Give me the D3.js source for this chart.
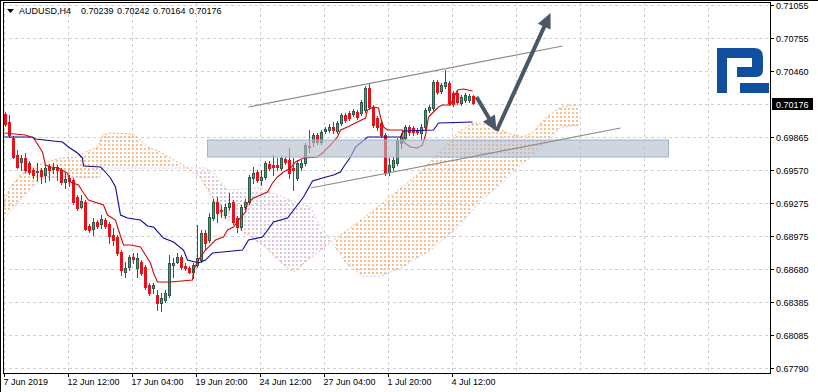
<!DOCTYPE html>
<html><head><meta charset="utf-8">
<script src="https://cdn.jsdelivr.net/npm/d3@7"></script>
<style>body{margin:0;background:#fff}svg{display:block}text{font-family:"Liberation Sans",Arial,sans-serif;font-size:9px;fill:#000}</style>
</head><body><svg id="c" width="818" height="392"></svg>
<script>
const symbol = "AUDUSD,H4";
const open = [0.70074,0.69998,0.69858,0.69705,0.69642,0.69678,0.69633,0.69570,0.69552,0.69570,
0.69525,0.69606,0.69579,0.69597,0.69570,0.69462,0.69498,0.69480,0.69327,0.69237,
0.69282,0.69066,0.69039,0.69102,0.69084,0.69120,0.69084,0.68985,0.68967,0.68832,
0.68652,0.68697,0.68787,0.68688,0.68742,0.68697,0.68535,0.68508,0.68445,0.68373,
0.68400,0.68445,0.68715,0.68742,0.68787,0.68706,0.68688,0.68652,0.68715,0.68760,
0.69003,0.68940,0.69138,0.69282,0.69210,0.69165,0.69237,0.69282,0.69138,0.69057,
0.69237,0.69282,0.69498,0.69552,0.69480,0.69507,0.69624,0.69615,0.69615,0.69588,
0.69669,0.69660,0.69588,0.69498,0.69597,0.69633,0.69786,0.69822,0.69885,0.69822,
0.69921,0.69930,0.69957,0.69921,0.69993,0.70065,0.70083,0.70074,0.70092,0.70083,
0.70110,0.70308,0.70137,0.70038,0.69993,0.69885,0.69552,0.69597,0.69633,0.69813,
0.69858,0.69957,0.69948,0.69930,0.69903,0.69957,0.70110,0.70128,0.70362,0.70281,
0.70326,0.70353,0.70263,0.70263,0.70173,0.70200,0.70200,0.70239];
const high = [0.70092,0.70065,0.69876,0.69750,0.69705,0.69723,0.69651,0.69588,0.69633,0.69588,
0.69606,0.69624,0.69633,0.69615,0.69588,0.69543,0.69525,0.69498,0.69345,0.69345,
0.69300,0.69084,0.69138,0.69120,0.69165,0.69138,0.69102,0.69048,0.68985,0.68850,
0.68742,0.68805,0.68823,0.68823,0.68760,0.68715,0.68553,0.68553,0.68490,0.68463,
0.68490,0.68805,0.68778,0.68823,0.68805,0.68733,0.68706,0.68733,0.69075,0.69030,
0.69030,0.69183,0.69309,0.69327,0.69255,0.69264,0.69363,0.69300,0.69156,0.69255,
0.69309,0.69525,0.69597,0.69570,0.69570,0.69651,0.69651,0.69705,0.69678,0.69696,
0.69687,0.69768,0.69678,0.69660,0.69660,0.69813,0.69930,0.69903,0.69903,0.69930,
0.69957,0.69984,0.69999,0.70011,0.70083,0.70083,0.70101,0.70119,0.70110,0.70200,
0.70326,0.70353,0.70155,0.70056,0.70020,0.69903,0.69678,0.69687,0.69858,0.69903,
0.69975,0.69975,0.69966,0.69948,0.69984,0.70128,0.70155,0.70380,0.70380,0.70353,
0.70470,0.70371,0.70281,0.70281,0.70245,0.70263,0.70254,0.70242];
const low = [0.69966,0.69867,0.69678,0.69588,0.69570,0.69552,0.69534,0.69498,0.69480,0.69453,
0.69462,0.69480,0.69543,0.69480,0.69444,0.69408,0.69426,0.69264,0.69210,0.69228,
0.69030,0.69012,0.68985,0.69048,0.69048,0.69048,0.68913,0.68895,0.68805,0.68625,
0.68607,0.68670,0.68733,0.68607,0.68625,0.68499,0.68445,0.68463,0.68310,0.68301,
0.68382,0.68427,0.68607,0.68733,0.68679,0.68670,0.68643,0.68598,0.68697,0.68742,
0.68850,0.68922,0.69120,0.69102,0.69147,0.69138,0.69210,0.69084,0.69012,0.69030,
0.69219,0.69264,0.69453,0.69462,0.69435,0.69489,0.69570,0.69525,0.69570,0.69570,
0.69624,0.69498,0.69390,0.69480,0.69570,0.69615,0.69732,0.69786,0.69804,0.69804,
0.69903,0.69912,0.69903,0.69903,0.69975,0.70002,0.70020,0.70056,0.70029,0.70065,
0.70092,0.70119,0.69957,0.69930,0.69867,0.69525,0.69525,0.69570,0.69615,0.69768,
0.69840,0.69885,0.69885,0.69894,0.69840,0.69939,0.70092,0.70110,0.70254,0.70263,
0.70308,0.70155,0.70146,0.70164,0.70155,0.70182,0.70182,0.70164];
const close = [0.69984,0.69885,0.69687,0.69597,0.69678,0.69570,0.69552,0.69525,0.69561,0.69516,
0.69588,0.69570,0.69588,0.69570,0.69462,0.69489,0.69471,0.69282,0.69228,0.69291,
0.69039,0.69030,0.69102,0.69066,0.69129,0.69066,0.68976,0.68940,0.68823,0.68670,
0.68688,0.68787,0.68769,0.68778,0.68643,0.68517,0.68463,0.68535,0.68373,0.68418,
0.68463,0.68733,0.68733,0.68787,0.68697,0.68688,0.68652,0.68715,0.68778,0.69003,
0.68913,0.69147,0.69282,0.69183,0.69201,0.69237,0.69273,0.69102,0.69057,0.69237,
0.69282,0.69507,0.69543,0.69480,0.69507,0.69633,0.69588,0.69597,0.69597,0.69678,
0.69642,0.69543,0.69570,0.69633,0.69633,0.69795,0.69777,0.69885,0.69822,0.69912,
0.69939,0.69957,0.69930,0.69993,0.70065,0.70020,0.70038,0.70101,0.70047,0.70182,
0.70308,0.70137,0.69975,0.69957,0.69885,0.69543,0.69615,0.69660,0.69840,0.69867,
0.69957,0.69912,0.69912,0.69912,0.69957,0.70110,0.70137,0.70362,0.70272,0.70335,
0.70362,0.70173,0.70164,0.70182,0.70227,0.70245,0.70236,0.70176];

const timeLabels = ["7 Jun 2019","12 Jun 12:00","17 Jun 04:00","19 Jun 20:00","24 Jun 12:00","27 Jun 04:00","1 Jul 20:00","4 Jul 12:00"];
const timeLabelBars = [0,16,32,48,64,80,96,112];
const gridBars = [0,16,32,48,64,80,96,112,128,144,160,176,192];
const priceTicks = [0.71055,0.70755,0.70460,0.70165,0.69865,0.69570,0.69275,0.68975,0.68680,0.68385,0.68085,0.67790];
const lastPrice = 0.70176;
const cloudBars = 144;

const tenkan = [[-0.25,0.69903],[5,0.69885],[7,0.69858],[9.25,0.69732],[10,0.69615],[11.25,0.69597],[13.25,0.69588],[15.5,0.69543],[16.25,0.69462],[18.25,0.69435],[19.5,0.69363],[20.75,0.69300],[24.5,0.69255],[25.5,0.69165],[27.5,0.69120],[28.25,0.69030],[29.5,0.68895],[31.25,0.68895],[33.75,0.68877],[35,0.68805],[36.25,0.68733],[37,0.68643],[38,0.68562],[41.25,0.68562],[46.75,0.68580],[47,0.68670],[48.25,0.68760],[50,0.68850],[51.25,0.68895],[52.5,0.68940],[54.5,0.68967],[55.5,0.69030],[57,0.69057],[58.25,0.69120],[60,0.69192],[60.5,0.69273],[62,0.69318],[63.75,0.69345],[65.5,0.69372],[66.75,0.69453],[68,0.69507],[69.5,0.69552],[71.25,0.69588],[72.5,0.69642],[74.5,0.69678],[78,0.69687],[79.5,0.69732],[81.25,0.69795],[83,0.69867],[83.75,0.69930],[85.5,0.69957],[87.5,0.69993],[90,0.70038],[90.5,0.70110],[92,0.70137],[93.25,0.70128],[93.75,0.70047],[94.5,0.69957],[95.5,0.69930],[99.25,0.69930],[99.5,0.69822],[101.25,0.69777],[103,0.69768],[104.25,0.69795],[105,0.69885],[105.75,0.70047],[107,0.70092],[108.25,0.70137],[109.25,0.70155],[111.25,0.70155],[112,0.70218],[113,0.70290],[114.5,0.70299],[116.75,0.70281]];
const kijun = [[-0.25,0.69867],[6.75,0.69867],[7.5,0.69849],[14.25,0.69822],[15.75,0.69777],[18,0.69723],[19.25,0.69678],[19.5,0.69606],[23.75,0.69597],[24.5,0.69570],[26.25,0.69498],[27.5,0.69417],[28.75,0.69165],[30.5,0.69138],[33.75,0.69120],[35.5,0.69066],[37,0.69057],[39.5,0.68958],[42,0.68922],[44.5,0.68850],[45.5,0.68760],[48.25,0.68733],[50,0.68760],[51.75,0.68823],[54.25,0.68832],[59.25,0.68850],[60.75,0.68940],[64.25,0.68967],[67,0.69102],[70.5,0.69138],[73,0.69255],[74.5,0.69327],[76.75,0.69471],[79.25,0.69498],[82,0.69525],[83.75,0.69552],[84.5,0.69597],[86.25,0.69687],[87.5,0.69777],[90.5,0.69867],[98.75,0.69867],[99.5,0.69921],[107,0.69930],[108.25,0.69993],[116.75,0.70002]];
const spanA = [[-0.25,0.69300],[1.25,0.69417],[3.75,0.69525],[7,0.69597],[10.5,0.69642],[13.75,0.69678],[18,0.69687],[19.5,0.69723],[23,0.69777],[24.5,0.69885],[26.25,0.69903],[32,0.69894],[33.75,0.69840],[35.5,0.69777],[38.75,0.69732],[42,0.69660],[45.5,0.69588],[48.75,0.69498],[51.75,0.69327],[53.75,0.69183],[60,0.69003],[63.75,0.68913],[68.75,0.68742],[72,0.68652],[75.5,0.68760],[78.75,0.68850],[82,0.68940],[86.25,0.69048],[93.75,0.69255],[103.75,0.69552],[113,0.69903],[117,0.69993],[120.5,0.69975],[123.75,0.69930],[127,0.69885],[129.5,0.69867],[132,0.69912],[134.5,0.70020],[137,0.70092],[139.5,0.70146],[143.25,0.70155]];
const spanB = [[-0.25,0.69138],[3.75,0.69300],[9.5,0.69507],[23.75,0.69507],[24,0.69588],[50,0.69588],[52,0.69543],[55.5,0.69390],[63.75,0.69408],[73,0.69273],[76.25,0.69237],[78.75,0.69057],[81.25,0.68940],[85,0.68742],[89.25,0.68616],[93.75,0.68616],[98.75,0.68688],[106.25,0.68850],[113.75,0.69075],[118.75,0.69300],[123.75,0.69435],[128.75,0.69615],[133.75,0.69750],[138.75,0.69957],[143.25,0.69975]];

const zoneBars = [50.5, 165.75];
const zonePrices = [0.69840, 0.69687];
const channelUpper = [[60.75,0.70137],[139.25,0.70686]];
const channelLower = [[76.25,0.69408],[153.75,0.69948]];
const arrowDown = [[117.75,0.70227],[122.75,0.69921]];
const arrowUp = [[122.75,0.69921],[136.25,0.70983]];

const svg = d3.select("#c");
const L = 3, T = 2, R = 770, B = 373;
const x = d3.scaleLinear().domain([0, 1]).range([5.5, 9.5]);
const y = d3.scaleLinear().domain([0.6779, 0.71055]).range([367.8, 5]);
const fmt = d3.format(".5f");
const ORANGE = "#F4A460", THISTLE = "#D8BFD8";
const ORANGE_DOT = "#F7BE8E", THISTLE_DOT = "#DCC8DC";

svg.append("rect").attr("width", 818).attr("height", 392).attr("fill", "#fff");
const defs = svg.append("defs");
defs.append("clipPath").attr("id", "plot").append("rect").attr("x", L + 1).attr("y", T + 1).attr("width", R - L - 1).attr("height", B - T - 1);
const plot = svg.append("g").attr("clip-path", "url(#plot)");

const grid = plot.append("g").attr("stroke", "#cfcfcf").attr("stroke-dasharray", "3,3").attr("shape-rendering", "crispEdges");
gridBars.forEach(b => grid.append("line").attr("x1", x(b) - 1).attr("x2", x(b) - 1).attr("y1", T).attr("y2", B));
priceTicks.forEach(p => grid.append("line").attr("x1", L).attr("x2", R).attr("y1", Math.round(y(p)) + 0.5).attr("y2", Math.round(y(p)) + 0.5));

// cloud: span A / span B as piecewise-linear scales, dotted histogram per bar between them
const sA = d3.scaleLinear().domain(spanA.map(d => d[0])).range(spanA.map(d => d[1])).clamp(true);
const sB = d3.scaleLinear().domain(spanB.map(d => d[0])).range(spanB.map(d => d[1])).clamp(true);
const kg = plot.append("g").attr("shape-rendering", "crispEdges");
d3.range(cloudBars).forEach(j => {
  const a = sA(j), b = sB(j);
  const y1 = y(Math.max(a, b)), y2 = y(Math.min(a, b));
  const col = a >= b ? ORANGE_DOT : THISTLE_DOT;
  const x0 = Math.floor(x(j) - 1.5);
  for (let yy = Math.ceil(y1 / 4) * 4; yy + 1 <= y2; yy += 4)
    kg.append("rect").attr("x", x0).attr("y", yy).attr("width", 2).attr("height", 2).attr("fill", col);
});
const line = d3.line().x(d => x(d[0])).y(d => y(d[1]));
plot.append("path").attr("d", line(spanA)).attr("fill", "none").attr("stroke", ORANGE).attr("stroke-dasharray", "2,2");
plot.append("path").attr("d", line(spanB)).attr("fill", "none").attr("stroke", THISTLE).attr("stroke-dasharray", "2,2");

const cg = plot.append("g").attr("shape-rendering", "crispEdges");
open.forEach((o, i) => {
  const c = close[i], up = c > o;
  const col = up ? "#2b5a47" : "#e8101a";
  const cx = x(i);
  cg.append("line").attr("x1", cx).attr("x2", cx)
    .attr("y1", Math.round(y(high[i]))).attr("y2", Math.round(y(low[i])) + 1).attr("stroke", col);
  const yt = Math.round(y(Math.max(o, c))), yb = Math.round(y(Math.min(o, c)));
  cg.append("rect").attr("x", cx - 1).attr("y", yt + 0.5).attr("width", 2).attr("height", Math.max(yb - yt, 0))
    .attr("fill", up ? "#4f9a7c" : "#e8101a").attr("stroke", col);
});

plot.append("path").attr("d", line(kijun)).attr("fill", "none").attr("stroke", "#0a0a9c").attr("stroke-width", 1.1);
plot.append("path").attr("d", line(tenkan)).attr("fill", "none").attr("stroke", "#cc0a0a").attr("stroke-width", 1.1);

plot.append("rect").attr("x", x(zoneBars[0])).attr("y", y(zonePrices[0]))
  .attr("width", x(zoneBars[1]) - x(zoneBars[0])).attr("height", y(zonePrices[1]) - y(zonePrices[0]))
  .attr("fill", "#b4bcc8").attr("fill-opacity", 0.62).attr("stroke", "#9db4d6").attr("stroke-width", 1);

[channelUpper, channelLower].forEach(ch => plot.append("path").attr("d", line(ch)).attr("fill", "none").attr("stroke", "#8c8c8c").attr("stroke-width", 1.2));

function arrow(pts) {
  const [x0, y0] = [x(pts[0][0]), y(pts[0][1])], [x1, y1] = [x(pts[1][0]), y(pts[1][1])];
  const a = Math.atan2(y1 - y0, x1 - x0), len = 15, hw = 7;
  const bx = x1 - len * Math.cos(a), by = y1 - len * Math.sin(a);
  plot.append("line").attr("x1", x0).attr("y1", y0).attr("x2", bx + 2 * Math.cos(a)).attr("y2", by + 2 * Math.sin(a))
    .attr("stroke", "#4a5866").attr("stroke-width", 4);
  plot.append("path").attr("d", `M${x1},${y1}L${bx - hw * Math.sin(a)},${by + hw * Math.cos(a)}L${bx + hw * Math.sin(a)},${by - hw * Math.cos(a)}Z`)
    .attr("fill", "#4a5866");
}
arrow(arrowDown);
arrow(arrowUp);

const lg = svg.append("g").attr("fill", "#0f4f9e");
lg.append("rect").attr("x", 712).attr("y", 42).attr("width", 58).attr("height", 56).attr("fill", "#fff");
lg.append("path").attr("d", "M717,48H754Q763,48 763,57V70Q763,77 756,77H737V67H752V58H727V93H717Z");
lg.append("path").attr("d", "M740,83H769V93H740Z");

svg.append("line").attr("x1", 0.5).attr("x2", 0.5).attr("y1", 0).attr("y2", 392).attr("stroke", "#000");
svg.append("line").attr("x1", 0).attr("x2", 818).attr("y1", 0.5).attr("y2", 0.5).attr("stroke", "#000");
svg.append("rect").attr("x", L + 0.5).attr("y", T + 0.5).attr("width", R - L).attr("height", B - T)
  .attr("fill", "none").attr("stroke", "#000");

const pa = svg.append("g");
priceTicks.filter(p => Math.abs(p - lastPrice) > 0.0002).forEach(p => {
  const yy = Math.round(y(p)) + 0.5;
  pa.append("line").attr("x1", R).attr("x2", R + 4).attr("y1", yy).attr("y2", yy).attr("stroke", "#000");
  pa.append("text").attr("x", R + 6).attr("y", yy + 3.5).text(fmt(p));
});
const ly = Math.round(y(lastPrice)) + 0.5;
pa.append("rect").attr("x", R + 2).attr("y", ly - 5.5).attr("width", 41).attr("height", 12).attr("fill", "#000");
pa.append("text").attr("x", R + 6).attr("y", ly + 4).style("fill", "#fff").text(fmt(lastPrice));

const ta = svg.append("g");
timeLabelBars.forEach((b, k) => {
  const xx = x(b) - 1;
  ta.append("line").attr("x1", xx).attr("x2", xx).attr("y1", B).attr("y2", B + 4).attr("stroke", "#000");
  ta.append("text").attr("x", xx - 1).attr("y", 385).text(timeLabels[k]);
});

const n = open.length - 1;
svg.append("path").attr("d", "M7,9H14L10.5,13Z").attr("fill", "#000");
const title = svg.append("text").attr("y", 14);
title.append("tspan").attr("x", 19).text(symbol);
[open[n], high[n], low[n], close[n]].forEach((v, k) => title.append("tspan").attr("x", 81 + 36 * k).text(fmt(v)));
</script></body></html>
